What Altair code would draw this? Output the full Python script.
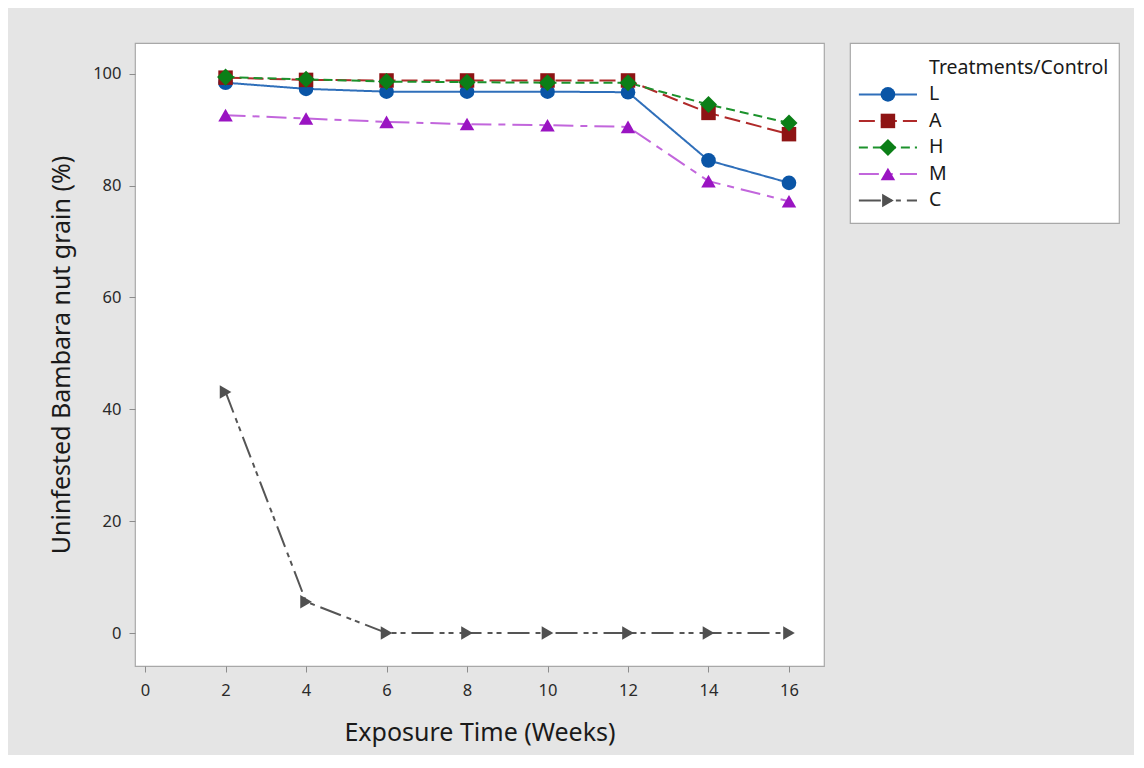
import altair as alt
import pandas as pd

# ---- data ----
weeks = [2, 4, 6, 8, 10, 12, 14, 16]
series = ["L", "A", "H", "M", "C"]
L_vals = [98.4, 97.3, 96.8, 96.8, 96.8, 96.7, 84.5, 80.5]
A_vals = [99.3, 98.9, 98.8, 98.8, 98.8, 98.8, 93.0, 89.2]
H_vals = [99.4, 99.0, 98.6, 98.5, 98.4, 98.4, 94.5, 91.2]
M_vals = [92.6, 92.0, 91.4, 91.0, 90.8, 90.5, 80.8, 77.2]
C_vals = [43.1, 5.6, 0, 0, 0, 0, 0, 0]
x_ticks = [0, 2, 4, 6, 8, 10, 12, 14, 16]
y_ticks = [0, 20, 40, 60, 80, 100]

# ---- styles ----
line_colors = ["#2f6fba", "#b02a2a", "#1c922c", "#c266dc", "#555555"]
mark_colors = ["#0a55a6", "#8e1414", "#0b7f17", "#9a14c2", "#505050"]
shapes = ["circle", "square", "diamond", "triangle-up", "triangle-right"]
sizes = [215, 210, 290, 210, 180]
dashes = [[1, 0], [16, 6], [9, 5], [20, 7, 7, 7], [22, 6, 5, 4, 5, 6]]
draw_order = ["C", "M", "L", "A", "H"]
FONT = "Noto Sans"

rows = []
for name, vals in zip(series, [L_vals, A_vals, H_vals, M_vals, C_vals]):
    for w, v in zip(weeks, vals):
        rows.append(dict(week=w, pct=v, series=name))
df = pd.DataFrame(rows)

xenc = alt.X("week:Q",
             scale=alt.Scale(domain=[-0.25, 16.87], nice=False, zero=False),
             axis=alt.Axis(values=x_ticks, title="Exposure Time (Weeks)",
                           titlePadding=22, labelPadding=10))
yenc = alt.Y("pct:Q",
             scale=alt.Scale(domain=[-5.9, 105.5], nice=False, zero=False),
             axis=alt.Axis(values=y_ticks, title="Uninfested Bambara nut grain (%)",
                           titlePadding=18, labelPadding=8))

lines = alt.Chart(df).mark_line(strokeWidth=2).encode(
    x=xenc, y=yenc,
    color=alt.Color("series:N", scale=alt.Scale(domain=series, range=line_colors), legend=None),
    strokeDash=alt.StrokeDash("series:N", scale=alt.Scale(domain=series, range=dashes), legend=None),
    detail="series:N",
)


def marker_layers(data, x, y):
    out = []
    for name in draw_order:
        i = series.index(name)
        out.append(
            alt.Chart(data).transform_filter(alt.datum.series == name)
            .mark_point(filled=True, opacity=1, shape=shapes[i], size=sizes[i],
                        color=mark_colors[i], strokeWidth=0)
            .encode(x=x, y=y)
        )
    return out


main = alt.layer(lines, *marker_layers(df, xenc, yenc)).properties(width=689, height=623)

# ---- custom legend panel ----
seg = []
for i, name in enumerate(series):
    seg.append(dict(series=name, row=i + 1, lx=0.033))
    seg.append(dict(series=name, row=i + 1, lx=0.249))
seg_df = pd.DataFrame(seg)
mk_df = pd.DataFrame(dict(series=series, row=[i + 1 for i in range(5)], lx=[0.141] * 5))
txt_df = pd.DataFrame(dict(label=["Treatments/Control"] + series, row=list(range(6)), lx=[0.294] * 6))

lx = alt.X("lx:Q", scale=alt.Scale(domain=[0, 1], nice=False, zero=False), axis=None)
ly = alt.Y("row:Q", scale=alt.Scale(domain=[-0.94, 5.85], nice=False, zero=False, reverse=True), axis=None)

leg_lines = alt.Chart(seg_df).mark_line(strokeWidth=2).encode(
    x=lx, y=ly,
    color=alt.Color("series:N", scale=alt.Scale(domain=series, range=line_colors), legend=None),
    strokeDash=alt.StrokeDash("series:N", scale=alt.Scale(domain=series, range=dashes), legend=None),
    detail="series:N",
)
leg_txt = alt.Chart(txt_df).mark_text(align="left", baseline="middle", font=FONT,
                                      fontSize=19.5, color="#1a1a1a").encode(
    x=lx, y=ly, text="label:N")
legend = alt.layer(leg_lines, *marker_layers(mk_df, lx, ly), leg_txt).properties(width=269, height=180)

chart = alt.hconcat(main, legend, spacing=24).configure(
    background="#e5e5e5",
    padding={"left": 41, "top": 34, "right": 14, "bottom": 8},
    font=FONT,
).configure_view(
    stroke="#a8a8a8", strokeWidth=1.2, fill="white"
).configure_axis(
    grid=False, domain=False, tickColor="#8c8c8c", tickSize=6,
    labelFont=FONT, labelFontSize=16.5, labelColor="#2a2a2a",
    titleFont=FONT, titleFontSize=25, titleFontWeight="normal", titleColor="#1a1a1a",
).configure_concat(spacing=24)

chart.save("out.html", embed_options={"renderer": "svg", "actions": False})
